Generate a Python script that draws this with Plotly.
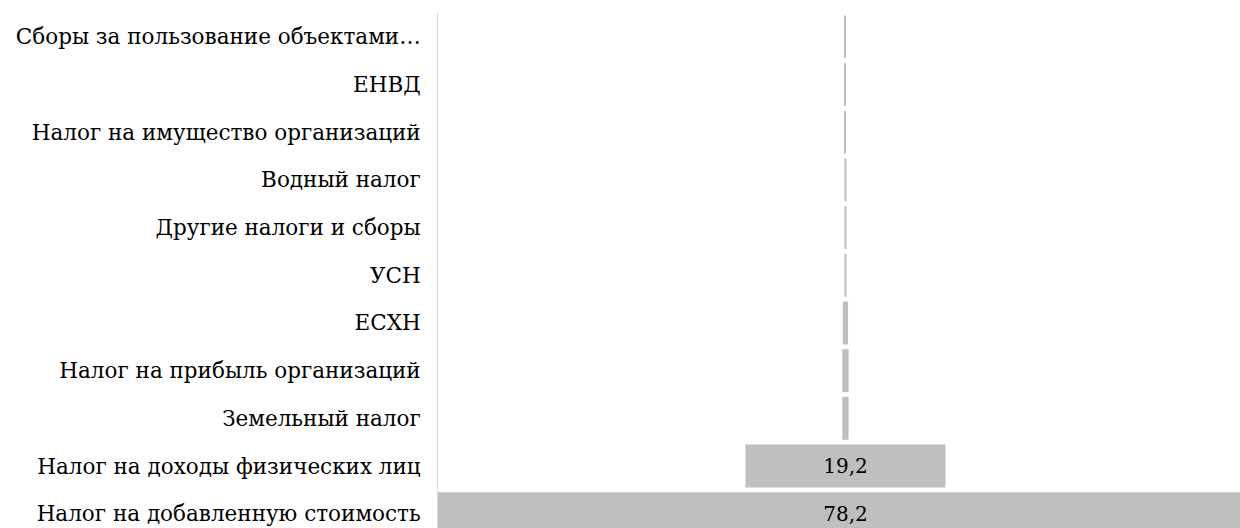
import plotly.graph_objects as go

categories = [
    "Сборы за пользование объектами…",
    "ЕНВД",
    "Налог на имущество организаций",
    "Водный налог",
    "Другие налоги и сборы",
    "УСН",
    "ЕСХН",
    "Налог на прибыль организаций",
    "Земельный налог",
    "Налог на доходы физических лиц",
    "Налог на добавленную стоимость",
]
values = [0.1, 0.1, 0.1, 0.2, 0.2, 0.2, 0.5, 0.6, 0.6, 19.2, 78.2]
labels = [(f"{v:.1f}".replace(".", ",") if v >= 5 else "") for v in values]

FONT = "DejaVu Serif"

fig = go.Figure(
    go.Funnel(
        x=values,
        y=categories,
        text=labels,
        textinfo="text",
        textposition="inside",
        insidetextanchor="middle",
        textfont=dict(family=FONT, size=20, color="#000000"),
        marker=dict(color="#bfbfbf", line=dict(width=0)),
        connector=dict(visible=False),
        hoverinfo="x+y",
    )
)

fig.update_layout(
    width=1240,
    height=528,
    margin=dict(l=438, r=0, t=13, b=0, autoexpand=False),
    paper_bgcolor="white",
    plot_bgcolor="white",
    separators=", ",
    funnelgap=0.1,
    showlegend=False,
    font=dict(family=FONT, size=21.5, color="#000000"),
)
fig.update_xaxes(
    range=[-39.1, 37.86],
    visible=False,
    showgrid=False,
    zeroline=False,
)
fig.update_yaxes(
    type="category",
    categoryorder="array",
    categoryarray=categories,
    range=[10.3, -0.5],
    autorange=False,
    showline=True,
    linecolor="#d9d9d9",
    linewidth=1,
    showgrid=False,
    ticks="",
    ticklabelstandoff=12,
    tickfont=dict(family=FONT, size=21.5, color="#000000"),
    automargin=False,
)

fig.write_html("out.html")
